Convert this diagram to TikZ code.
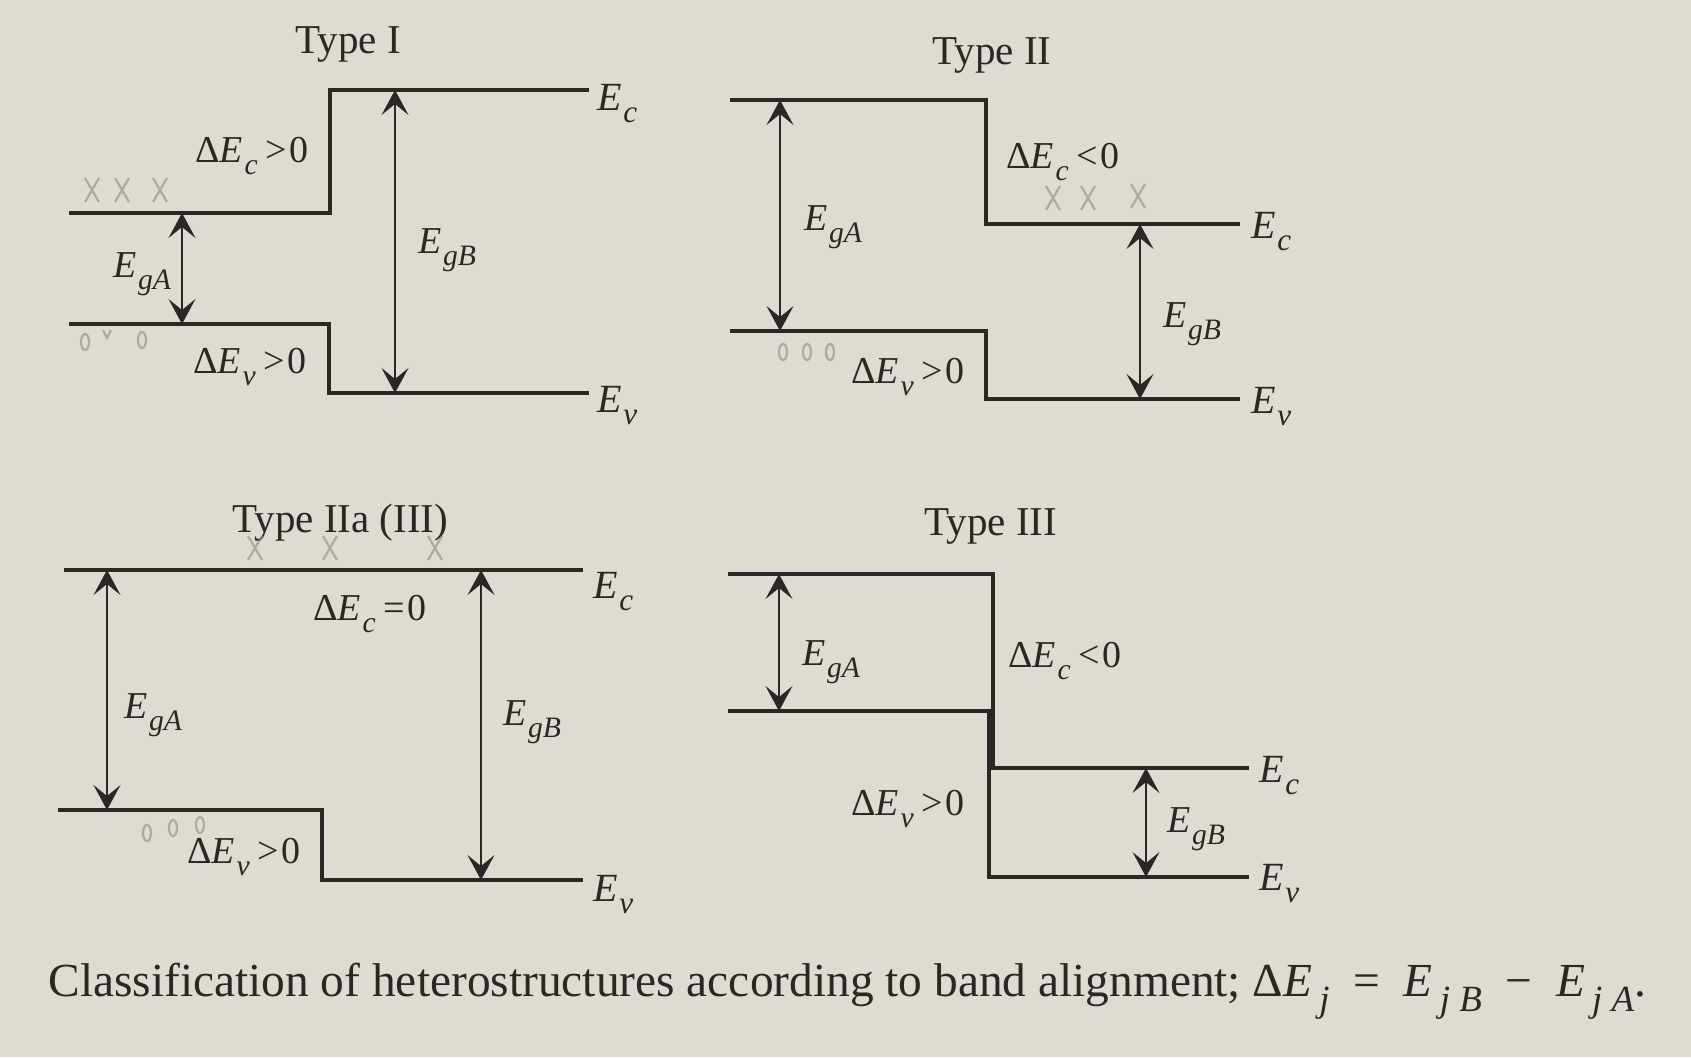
\documentclass[tikz,border=0pt]{standalone}
\usepackage{fontspec}
\usepackage{graphicx}
\setmainfont{Liberation Serif}
\usetikzlibrary{arrows.meta}
\definecolor{paper}{RGB}{223,219,211}
\definecolor{ink}{RGB}{42,39,39}
\definecolor{lead}{RGB}{140,138,136}
\newcommand{\Sb}[1]{\raisebox{-0.32em}{\scalebox{0.78}{\textit{#1}}}}
\newcommand{\Es}[1]{\textit{E}\kern0.04em\Sb{#1}}

\begin{document}
\begin{tikzpicture}[x=0.5pt,y=-0.5pt,
  >={Stealth[length=12.5pt,width=13.5pt,inset=5.5pt]},
  band/.style={draw=ink,line width=1.7pt},
  gap/.style={<->,draw=ink,line width=0.7pt},
  ttl/.style={anchor=base west,inner sep=0pt,text=ink,font=\fontsize{20.5}{24}\selectfont},
  lvl/.style={anchor=base west,inner sep=0pt,text=ink,font=\fontsize{20}{24}\selectfont},
  lab/.style={anchor=base west,inner sep=0pt,text=ink,font=\fontsize{19}{22}\selectfont},
  pencil/.style={draw=lead,line width=1.1pt,opacity=0.6}]
  \fill[paper] (0,0) rectangle (1691,1057);
  \useasboundingbox (0,0) rectangle (1691,1057);
  % tipo I
  \draw[band] (69,213) -- (330,213) -- (330,90) -- (589,90);
  \draw[band] (69,324) -- (329,324) -- (329,393) -- (589,393);
  \draw[gap] (182,213) -- (182,324);
  \draw[gap] (395,90) -- (395,393);
  \node[ttl] (t1) at (295,53) {Type I};
  \node[lvl] (c1) at (597,110) {\Es{c}};
  \node[lvl] (v1) at (597,412) {\Es{v}};
  \node[lab] (dc1) at (195,162) {Δ\Es{c}\hspace{0.2em}>\hspace{0.08em}0};
  \node[lab] (dv1) at (193,373) {Δ\Es{v}\hspace{0.2em}>\hspace{0.08em}0};
  \node[lab] (ga1) at (113,277) {\Es{gA}};
  \node[lab] (gb1) at (418,253) {\Es{gB}};
  % tipo II
  \draw[band] (730,100) -- (986,100) -- (986,224) -- (1240,224);
  \draw[band] (730,331) -- (986,331) -- (986,399) -- (1240,399);
  \draw[gap] (780,100) -- (780,331);
  \draw[gap] (1140,224) -- (1140,399);
  \node[ttl] (t2) at (932,64) {Type II};
  \node[lvl] (c2) at (1251,238) {\Es{c}};
  \node[lvl] (v2) at (1251,413) {\Es{v}};
  \node[lab] (dc2) at (1006,168) {Δ\Es{c}\hspace{0.2em}<\hspace{0.08em}0};
  \node[lab] (dv2) at (851,383) {Δ\Es{v}\hspace{0.2em}>\hspace{0.08em}0};
  \node[lab] (ga2) at (804,230) {\Es{gA}};
  \node[lab] (gb2) at (1163,327) {\Es{gB}};
  % tipo IIa
  \draw[band] (64,570) -- (583,570);
  \draw[band] (58,810) -- (322,810) -- (322,880) -- (583,880);
  \draw[gap] (107,570) -- (107,810);
  \draw[gap] (481,570) -- (481,880);
  \node[ttl] (t3) at (232,532) {Type IIa (III)};
  \node[lvl] (c3) at (593,598) {\Es{c}};
  \node[lvl] (v3) at (593,901) {\Es{v}};
  \node[lab] (dc3) at (313,620) {Δ\Es{c}\hspace{0.2em}=\hspace{0.08em}0};
  \node[lab] (dv3) at (187,863) {Δ\Es{v}\hspace{0.2em}>\hspace{0.08em}0};
  \node[lab] (ga3) at (124,718) {\Es{gA}};
  \node[lab] (gb3) at (503,725) {\Es{gB}};
  % tipo III
  \draw[band] (728,574) -- (993,574) -- (993,768) -- (1249,768);
  \draw[band] (728,711) -- (989,711) -- (989,877) -- (1249,877);
  \draw[gap] (779,574) -- (779,711);
  \draw[gap] (1146,768) -- (1146,877);
  \node[ttl] (t4) at (924,535) {Type III};
  \node[lvl] (c4) at (1259,782) {\Es{c}};
  \node[lvl] (v4) at (1259,890) {\Es{v}};
  \node[lab] (dc4) at (1008,667) {Δ\Es{c}\hspace{0.2em}<\hspace{0.08em}0};
  \node[lab] (dv4) at (851,815) {Δ\Es{v}\hspace{0.2em}>\hspace{0.08em}0};
  \node[lab] (ga4) at (802,665) {\Es{gA}};
  \node[lab] (gb4) at (1167,832) {\Es{gB}};
  % segni a matita
  \foreach \x/\y in {92/190,122/190,160/190,1053/198,1088/198,1138/196,255/548,330/548,435/548}
    \draw[pencil] (\x-7,\y-12) .. controls (\x,\y) .. (\x+7,\y+12) (\x+7,\y-12) -- (\x-7,\y+12);
  \foreach \x/\y in {85/342,142/340,783/352,807/352,830/352,147/833,173/828,200/825}
    \draw[pencil] (\x,\y) ellipse (4 and 8);
  \draw[pencil] (103,330) -- (107,338) -- (111,330);
  % didascalia
  \node[anchor=base west,inner sep=0pt,text=ink,font=\fontsize{23.7}{28}\selectfont] (cap) at (48,996)
    {Classification of heterostructures according to band alignment; Δ\textit{E}\hspace{0.15em}\Sb{j}\hspace{0.5em}=\hspace{0.5em}\textit{E}\hspace{0.15em}\Sb{j\hspace{0.25em}B}\hspace{0.5em}−\hspace{0.5em}\textit{E}\hspace{0.15em}\Sb{j\hspace{0.25em}A}.};
\end{tikzpicture}
\end{document}
